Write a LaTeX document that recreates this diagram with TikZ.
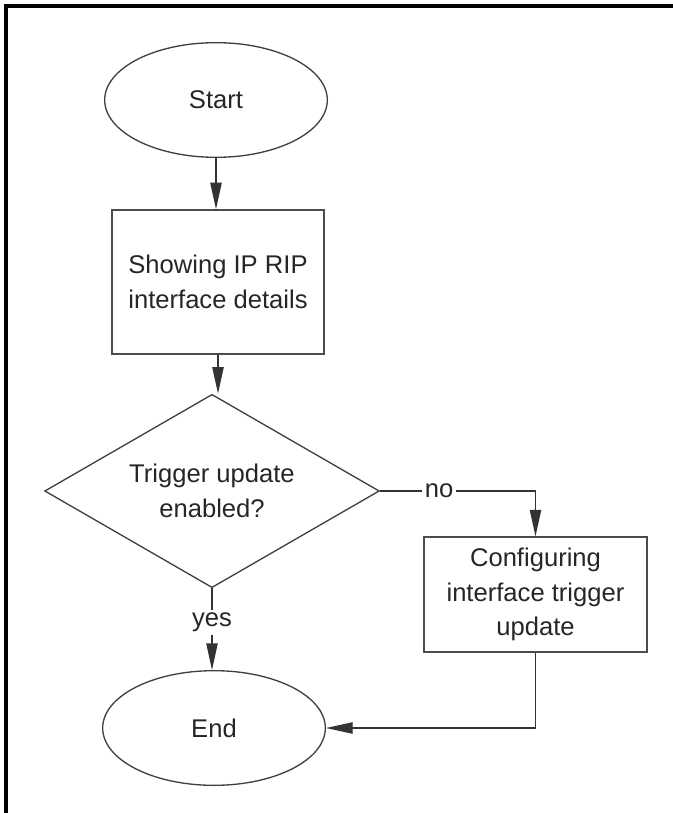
\documentclass[tikz,border=0pt]{standalone}
\usepackage{fontspec}
\setmainfont{Liberation Sans}
\usetikzlibrary{arrows.meta,shapes.geometric}

\tikzset{
	flowline/.style={draw=black!80,line width=1pt},
	terminal/.style={ellipse,draw=black!75,line width=1pt,inner sep=0pt,
		minimum width=167pt,minimum height=86pt},
	process/.style={rectangle,draw=black!70,line width=1.1pt,inner sep=0pt,
		align=center},
	decision/.style={diamond,draw=black!75,line width=1pt,inner sep=0pt,aspect=1.73,
		minimum width=251pt,minimum height=145pt,align=center},
	branch/.style={fill=white,inner sep=2pt}
}

\begin{document}
\begin{tikzpicture}[x=0.75pt,y=-0.75pt,>={Triangle[length=20pt,width=8.5pt]},
		every node/.style={font=\fontsize{19.2}{26}\selectfont,text=black!85}]
		
		\useasboundingbox (0,0) rectangle (673,813);
		
		%--- Frame ---
		\draw[line width=2.6pt] (673,6) -- (6,6) -- (6,813);
		
		%--- Main column ---
		\node[terminal] (start) at (216,100) {Start};
		\node[process,minimum width=159pt,minimum height=108pt] (show) at (218,282)
			{Showing IP RIP\\interface details};
		\node[decision] (trig) at (212,491) {Trigger update\\enabled?};
		\node[terminal] (end) at (214,728) {End};
		
		%--- Side branch ---
		\node[process,minimum width=167pt,minimum height=86pt] (conf) at (535.5,594.5)
			{Configuring\\interface trigger\\update};
		
		% Connectors
		\draw[flowline,->] (start.south) -- (show.north -| start.south);
		\draw[flowline,->] (show.south) -- (trig.north -| show.south);
		\draw[flowline,->] (trig.south) -- node[branch,pos=0.42] {yes} (end.north -| trig.south);
		\draw[flowline,->] (trig.east) -| node[branch,pos=0.19] {no} (conf.north);
		\draw[flowline,->] (conf.south) |- (end.east);
		
	\end{tikzpicture}
\end{document}
